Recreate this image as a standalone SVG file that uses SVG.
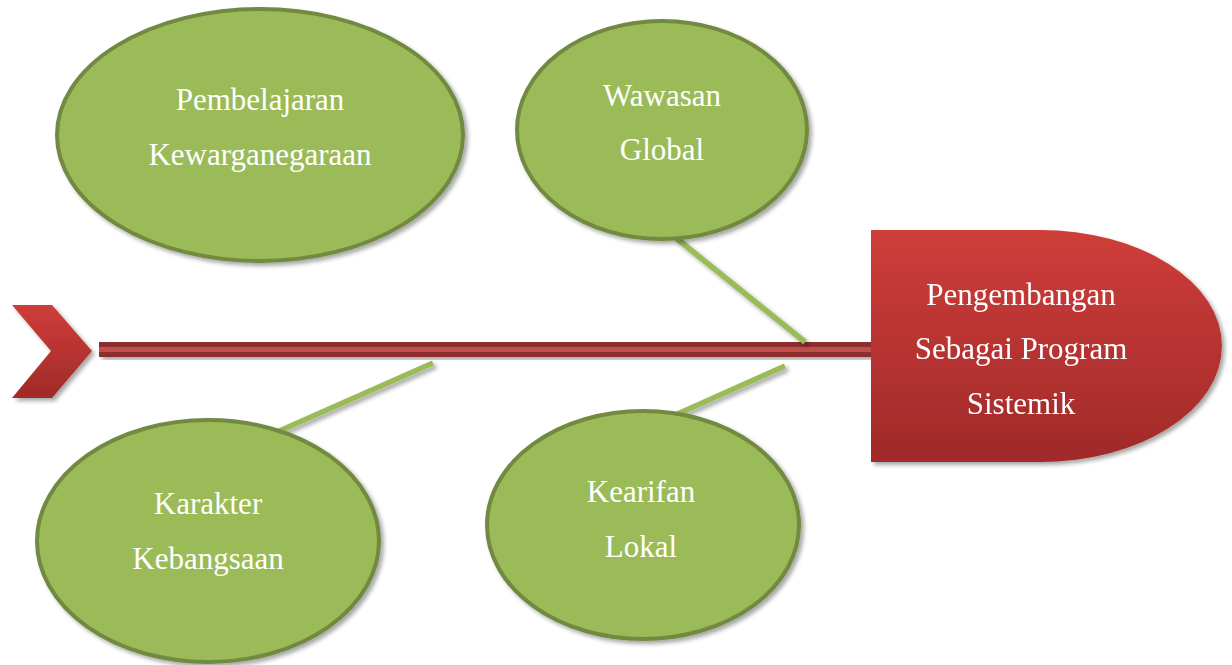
<svg xmlns="http://www.w3.org/2000/svg" width="1232" height="665" viewBox="0 0 1232 665">
<defs>
<linearGradient id="red" x1="0" y1="0" x2="0" y2="1">
<stop offset="0" stop-color="#cf3d3a"/>
<stop offset="1" stop-color="#a02a29"/>
</linearGradient>
<filter id="sh" x="-10%" y="-10%" width="130%" height="130%">
<feGaussianBlur in="SourceAlpha" stdDeviation="2"/>
<feOffset dx="3" dy="3" result="b"/>
<feComponentTransfer><feFuncA type="linear" slope="0.35"/></feComponentTransfer>
<feMerge><feMergeNode/><feMergeNode in="SourceGraphic"/></feMerge>
</filter>
</defs>
<style>
.el{fill:#9bbb59;stroke:#71893f;stroke-width:4}
.t{font-family:'Liberation Serif','Times New Roman',serif;font-size:31px;fill:#ffffff;text-anchor:middle}
.bone{stroke:#9bbb59;stroke-width:5.5;fill:none}
</style>
<g id="tail" filter="url(#sh)">
<polygon points="12,305 52,305 92,351 52,398 12,398 51,351" fill="url(#red)"/>
</g>
<g id="connectors">
<g id="spine" filter="url(#sh)">
<rect x="99" y="342" width="774" height="15" fill="#8c2f2e"/>
<rect x="99" y="347" width="774" height="5" fill="#c0504d"/>
</g>
<g filter="url(#sh)">
<line class="bone" x1="676" y1="238" x2="805" y2="342"/>
<line class="bone" x1="785" y1="366" x2="655" y2="424"/>
<line class="bone" x1="433" y1="363" x2="277" y2="432"/>
</g>
</g>
<g id="head" filter="url(#sh)">
<path d="M871,230 H1040 A182,116 0 0 1 1040,462 H871 Z" fill="url(#red)"/>
<text class="t" x="1021" y="305">Pengembangan</text>
<text class="t" x="1021" y="359">Sebagai Program</text>
<text class="t" x="1021" y="414">Sistemik</text>
</g>
<g id="n-pembelajaran">
<ellipse class="el" cx="260" cy="135" rx="203" ry="126" filter="url(#sh)"/>
<text class="t" x="260" y="110">Pembelajaran</text>
<text class="t" x="260" y="165">Kewarganegaraan</text>
</g>
<g id="n-wawasan">
<ellipse class="el" cx="662" cy="130" rx="145" ry="109" filter="url(#sh)"/>
<text class="t" x="662" y="106">Wawasan</text>
<text class="t" x="662" y="160">Global</text>
</g>
<g id="n-karakter">
<ellipse class="el" cx="208" cy="541" rx="171" ry="121" filter="url(#sh)"/>
<text class="t" x="208" y="514">Karakter</text>
<text class="t" x="208" y="569">Kebangsaan</text>
</g>
<g id="n-kearifan">
<ellipse class="el" cx="643" cy="525" rx="156" ry="114" filter="url(#sh)"/>
<text class="t" x="641" y="502">Kearifan</text>
<text class="t" x="641" y="557">Lokal</text>
</g>
</svg>
